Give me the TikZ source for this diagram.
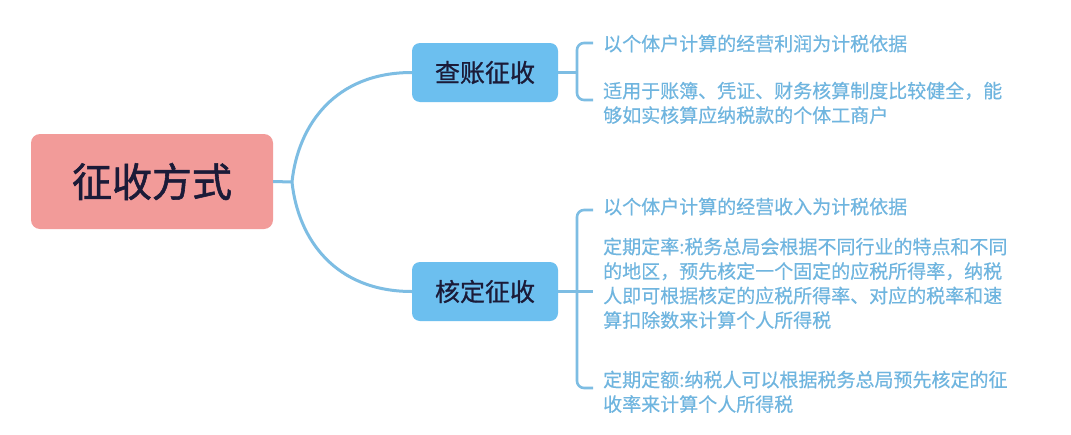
\documentclass[tikz,border=0pt]{standalone}
\usepackage{fontspec}
\newfontfamily\cjk[FakeBold=0.4]{Noto Sans CJK SC}
\newfontfamily\cjkb[FakeBold=1.4]{Noto Sans CJK SC}
\newfontfamily\cjkm[FakeBold=0.8]{Noto Sans CJK SC}
\definecolor{rootpink}{HTML}{F29B99}
\definecolor{boxblue}{HTML}{6CBFEF}
\definecolor{linkblue}{HTML}{7DBDE3}
\definecolor{leaftext}{HTML}{6FB5DF}
\definecolor{darkink}{HTML}{1B1B38}
\tikzset{
  rootbox/.style={fill=rootpink, rounded corners=9pt, minimum width=242pt, minimum height=95pt, inner sep=0pt, text=darkink, font=\cjkb\fontsize{40}{44}\selectfont},
  topicbox/.style={fill=boxblue, rounded corners=8pt, minimum width=146pt, minimum height=59pt, inner sep=0pt, text=darkink, font=\cjkm\fontsize{25}{28}\selectfont},
  leaf/.style={anchor=north west, inner sep=0pt, align=left, text=leaftext, font=\cjk\fontsize{19}{24.5}\selectfont},
  link/.style={draw=linkblue, line width=3pt},
  brace/.style={draw=linkblue, line width=2.6pt, rounded corners=7pt}
}
\begin{document}
\begin{tikzpicture}[x=1pt,y=-1pt]
\useasboundingbox[fill=white] (0,0) rectangle (1071,434);
\node[rootbox] (root) at (152,181.5) {征收方式};
\node[topicbox] (b1) at (485,72.5) {查账征收};
\node[topicbox] (b2) at (485,291.5) {核定征收};
\coordinate (j) at (292,182);
\draw[link] (root.east) -- (j);
\draw[link] (j) .. controls (298,125) and (335,72.5) .. (b1.west);
\draw[link] (j) .. controls (298,239) and (335,291.5) .. (b2.west);
% bracket 1
\coordinate (k1) at (577,72.5);
\coordinate (t1) at (593,43);
\coordinate (u1) at (593,100);
\draw[link] (b1.east) -- (k1);
\draw[brace] (t1) -- (577,43) -- (577,100) -- (u1);
% bracket 2
\coordinate (k2) at (593,291.5);
\coordinate (t2) at (593,210);
\coordinate (u2) at (593,388);
\draw[link] (b2.east) -- (k2);
\draw[brace] (t2) -- (577,210) -- (577,388) -- (u2);
% leaf texts
\node[leaf] (l1) at (603,34.5) {以个体户计算的经营利润为计税依据};
\node[leaf] (l2) at (603,81.5) {适用于账簿、凭证、财务核算制度比较健全，能\\够如实核算应纳税款的个体工商户};
\node[leaf] (l3) at (603,197.5) {以个体户计算的经营收入为计税依据};
\node[leaf] (l4) at (603,237.5) {定期定率:税务总局会根据不同行业的特点和不同\\的地区，预先核定一个固定的应税所得率，纳税\\人即可根据核定的应税所得率、对应的税率和速\\算扣除数来计算个人所得税};
\node[leaf] (l5) at (603,370.5) {定期定额:纳税人可以根据税务总局预先核定的征\\收率来计算个人所得税};
\end{tikzpicture}
\end{document}
